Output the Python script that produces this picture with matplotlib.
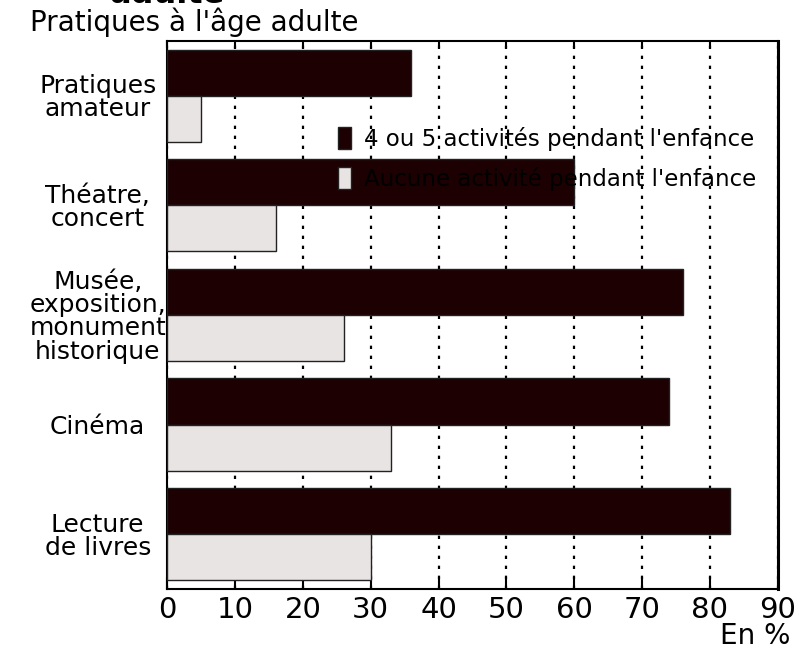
import matplotlib.pyplot as plt
import numpy as np

# Data
categories = ["Pratiques\namateur", "Théatre,\nconcert", "Musée,\nexposition,\nmonument\nhistorique",
              "Cinéma", "Lecture\nde livres"]
with_activities = [36, 60, 76, 74, 83]
no_activity = [5, 16, 26, 33, 30]
x_ticks = [0, 10, 20, 30, 40, 50, 60, 70, 80, 90]

dark = "#1c0002"
light = "#e9e4e4"

fig = plt.figure(figsize=(7.96, 6.5), dpi=100)
ax = fig.add_axes([0.21, 0.094, 0.767, 0.843])

pos = np.arange(len(categories))
h = 0.42
ax.barh(pos - h / 2, with_activities, height=h, color=dark, edgecolor="#222222",
        linewidth=1, label="4 ou 5 activités pendant l'enfance", zorder=3)
ax.barh(pos + h / 2, no_activity, height=h, color=light, edgecolor="#222222",
        linewidth=1, label="Aucune activité pendant l'enfance", zorder=3)

ax.set_ylim(len(categories) - 0.5, -0.5)
ax.set_xlim(0, 90)

ax.set_yticks(pos)
ax.set_yticklabels(categories, fontsize=18, linespacing=0.95, ha="center")
ax.tick_params(axis="y", length=0, pad=50)

ax.set_xticks(x_ticks)
ax.set_xticklabels([str(t) for t in x_ticks], fontsize=21)
ax.tick_params(axis="x", direction="in", length=9, width=1.5, top=True, pad=5)
for t in ax.xaxis.get_major_ticks():
    t.tick2line.set_markersize(5)

ax.grid(axis="x", color="black", linestyle=(0, (1.5, 3)), linewidth=1.6, zorder=1)
for s in ax.spines.values():
    s.set_linewidth(1.5)
ax.spines["right"].set_linewidth(2.2)

ax.legend(loc="upper left", bbox_to_anchor=(0.28, 0.843), frameon=False, fontsize=16.5,
          handlelength=0.55, handleheight=1.1, handletextpad=0.6, labelspacing=0.7,
          borderaxespad=0, borderpad=0)

fig.text(0.038, 1 - 22 / 650, "Pratiques à l'âge adulte", fontsize=20, va="center", ha="left")
# title line cut off by the top edge, as in the source image
fig.text(0.21, 1 - 3 / 650, "adulte", fontsize=23, fontweight="bold", ha="center", va="baseline")
fig.text(0.993, 0.022, "En %", fontsize=20, ha="right", va="center")

fig.savefig("out.png", dpi=100)
